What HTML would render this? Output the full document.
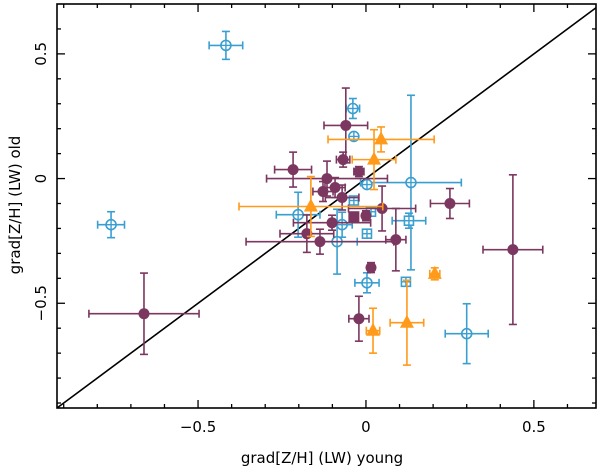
<!DOCTYPE html>
<html><head><meta charset="utf-8"><style>
body{margin:0;background:#fff}
svg{display:block;font-family:"DejaVu Sans","Liberation Sans",sans-serif}
</style></head><body>
<svg id="chart" width="600" height="468" viewBox="0 0 600 468" xmlns="http://www.w3.org/2000/svg">
<g id="marks"></g>
<g id="axes"></g>
</svg>
<script>
// data: [x, y, xerr, yerr]
const purpleX = [-0.661,0.4375,0.25,-0.06,-0.068,-0.217,-0.021,-0.116,-0.128,-0.092,-0.071,-0.036,0.0,0.048,0.089,-0.101,-0.176,-0.137,0.015,-0.021];
const purpleY = [-0.542,-0.285,-0.10,0.213,0.076,0.036,0.028,0.0,-0.052,-0.036,-0.076,-0.153,-0.149,-0.12,-0.245,-0.177,-0.221,-0.253,-0.357,-0.562];
const purpleXe = [0.164,0.089,0.058,0.065,0.02,0.055,0.015,0.18,0.03,0.03,0.05,0.01,0.01,0.1,0.03,0.115,0.08,0.22,0.01,0.03];
const purpleYe = [0.163,0.30,0.06,0.15,0.03,0.07,0.02,0.07,0.04,0.04,0.05,0.015,0.02,0.09,0.125,0.03,0.075,0.05,0.02,0.09];
const purpleShape = ['c','c','c','c','c','c','c','c','c','c','c','s','c','c','c','c','c','c','c','c'];

const blueX = [-0.417,-0.759,0.134,0.30,-0.039,-0.036,0.003,-0.202,-0.036,0.015,0.128,0.003,-0.071,-0.086,0.003,0.119];
const blueY = [0.534,-0.185,-0.016,-0.622,0.281,0.169,-0.024,-0.145,-0.088,-0.133,-0.169,-0.221,-0.185,-0.253,-0.418,-0.414];
const blueXe = [0.05,0.04,0.15,0.064,0.02,0.01,0.01,0.065,0.01,0.01,0.05,0.01,0.03,0.06,0.036,0.01];
const blueYe = [0.056,0.052,0.35,0.12,0.04,0.01,0.01,0.09,0.01,0.01,0.03,0.01,0.05,0.13,0.04,0.01];
const blueShape = ['o','o','o','o','o','o','o','o','s','s','s','s','o','o','o','s'];

const orangeX = [0.045,0.024,-0.164,0.205,0.122,0.021];
const orangeY = [0.157,0.076,-0.112,-0.382,-0.578,-0.61];
const orangeXe = [0.158,0.065,0.214,0.015,0.05,0.02];
const orangeYe = [0.05,0.12,0.12,0.024,0.17,0.09];

const xTicks = [-0.5,0,0.5];
const xTickLabels = ['\u22120.5','0','0.5'];
const yTicks = [-0.5,0,0.5];
const yTickLabels = ['\u22120.5','0','0.5'];

const L=57,R=596,T=4,B=408;
const xmin=-0.92,xmax=0.685,ymin=-0.92,ymax=0.7;
const sx=v=>L+(v-xmin)/(xmax-xmin)*(R-L);
const sy=v=>B-(v-ymin)/(ymax-ymin)*(B-T);
const NS='http://www.w3.org/2000/svg';
const marks=document.getElementById('marks'), axes=document.getElementById('axes');
function mk(tag,attrs,parent){const e=document.createElementNS(NS,tag);for(const k in attrs)e.setAttribute(k,attrs[k]);parent.appendChild(e);return e;}

function errbar(g,x,y,xe,ye,col){
  const cx=sx(x),cy=sy(y),x1=sx(x-xe),x2=sx(x+xe),y1=sy(y+ye),y2=sy(y-ye);
  const a={stroke:col,'stroke-width':1.6,fill:'none'};
  mk('line',Object.assign({x1:x1,y1:cy,x2:x2,y2:cy},a),g);
  mk('line',Object.assign({x1:cx,y1:y1,x2:cx,y2:y2},a),g);
  mk('line',Object.assign({x1:x1,y1:cy-4,x2:x1,y2:cy+4},a),g);
  mk('line',Object.assign({x1:x2,y1:cy-4,x2:x2,y2:cy+4},a),g);
  mk('line',Object.assign({x1:cx-4,y1:y1,x2:cx+4,y2:y1},a),g);
  mk('line',Object.assign({x1:cx-4,y1:y2,x2:cx+4,y2:y2},a),g);
}

// diagonal y=x
const diag=mk('line',{x1:sx(-0.92),y1:sy(-0.92),x2:sx(0.685),y2:sy(0.685),stroke:'#000','stroke-width':1.6},marks);



const cb='#3a9fd0',cp='#7b3760',co='#ff9a1a';
blueX.forEach((x,i)=>{
  const g=mk('g',{},marks);
  
  
  errbar(g,x,blueY[i],blueXe[i],blueYe[i],cb);
  const cx=sx(x),cy=sy(blueY[i]);
  if(blueShape[i]==='s') mk('rect',{x:cx-4.5,y:cy-4.5,width:9,height:9,fill:'#fff',stroke:cb,'stroke-width':1.6},g);
  else mk('circle',{cx:cx,cy:cy,r:5,fill:'#fff',stroke:cb,'stroke-width':1.6},g);
  mk('line',{x1:cx-5,y1:cy,x2:cx+5,y2:cy,stroke:cb,'stroke-width':1.4},g);
  mk('line',{x1:cx,y1:cy-5,x2:cx,y2:cy+5,stroke:cb,'stroke-width':1.4},g);
});
purpleX.forEach((x,i)=>{
  const g=mk('g',{},marks);
  
  
  errbar(g,x,purpleY[i],purpleXe[i],purpleYe[i],cp);
  const cx=sx(x),cy=sy(purpleY[i]);
  if(purpleShape[i]==='s') mk('rect',{x:cx-5.5,y:cy-5.5,width:11,height:11,fill:cp},g);
  else mk('circle',{cx:cx,cy:cy,r:5.5,fill:cp},g);
});
orangeX.forEach((x,i)=>{
  const g=mk('g',{},marks);
  
  
  errbar(g,x,orangeY[i],orangeXe[i],orangeYe[i],co);
  const cx=sx(x),cy=sy(orangeY[i]);
  mk('polygon',{points:`${cx},${cy-8} ${cx+7},${cy+5} ${cx-7},${cy+5}`,fill:co},g);
});

// axes frame
const fr=mk('rect',{x:L,y:T,width:R-L,height:B-T,fill:'none',stroke:'#000','stroke-width':1.6},axes);


for(let k=-9;k<=6;k++){
  const v=k/10, major=(k%5===0), len=major?8:4;
  if(v>=xmin&&v<=xmax){const x=sx(v);
    mk('line',{x1:x,y1:B,x2:x,y2:B-len,stroke:'#000','stroke-width':1.3},axes);
    mk('line',{x1:x,y1:T,x2:x,y2:T+len,stroke:'#000','stroke-width':1.3},axes);}
  if(v>=ymin&&v<=ymax){const y=sy(v);
    mk('line',{x1:L,y1:y,x2:L+len,y2:y,stroke:'#000','stroke-width':1.3},axes);
    mk('line',{x1:R,y1:y,x2:R-len,y2:y,stroke:'#000','stroke-width':1.3},axes);}
}
xTicks.forEach((v,i)=>{
  const t=mk('text',{x:sx(v),y:432,'text-anchor':'middle','font-size':15},axes);
  t.textContent=xTickLabels[i];
  
  
});
yTicks.forEach((v,i)=>{
  const t=mk('text',{x:0,y:0,'text-anchor':'middle','font-size':15,transform:`translate(46,${sy(v)}) rotate(-90)`},axes);
  t.textContent=yTickLabels[i];
  
  
});
const xt=mk('text',{x:322,y:463,'text-anchor':'middle','font-size':15},axes);
xt.textContent='grad[Z/H] (LW) young';


const yt=mk('text',{x:0,y:0,'text-anchor':'middle','font-size':15,transform:'translate(20,205) rotate(-90)'},axes);
yt.textContent='grad[Z/H] (LW) old';


</script>
</body></html>
